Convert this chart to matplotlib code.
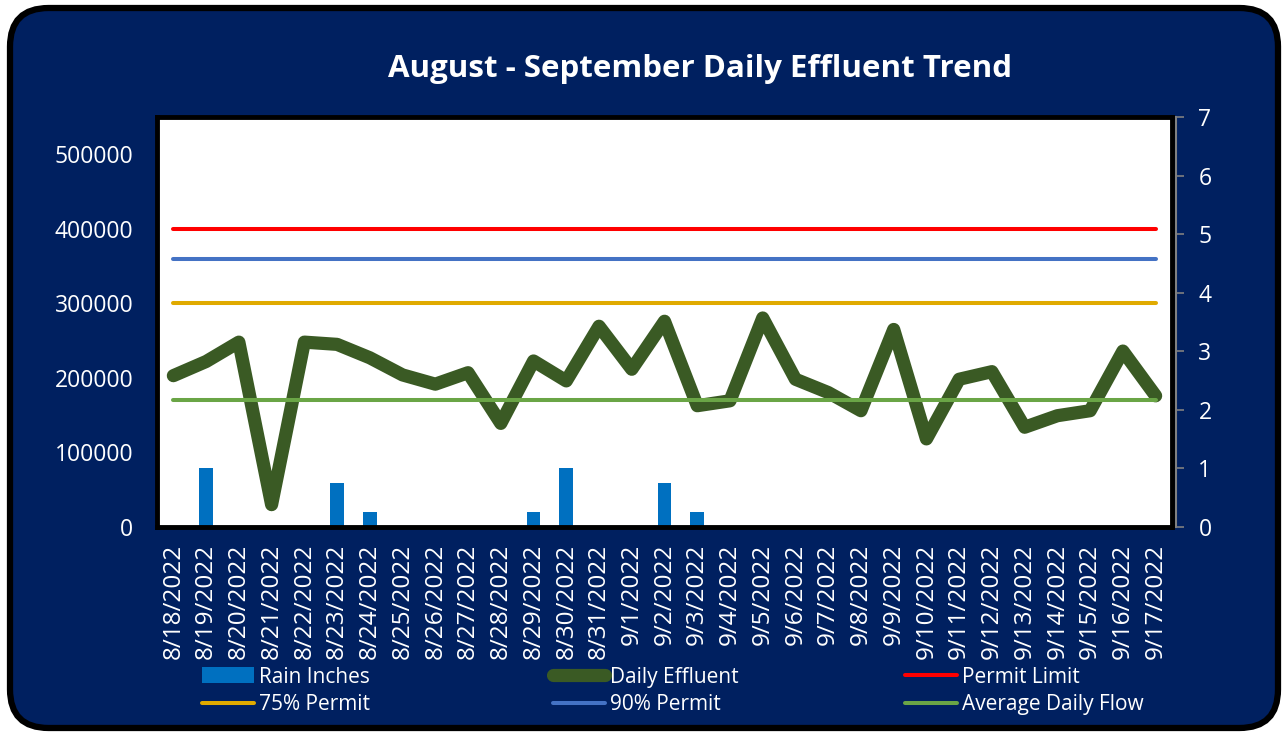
import matplotlib
matplotlib.use("Agg")
import matplotlib.pyplot as plt
import numpy as np
from matplotlib.patches import FancyBboxPatch, Patch
from matplotlib.lines import Line2D

plt.rcParams['font.family'] = ['Open Sans', 'DejaVu Sans']

dates = ["8/18/2022", "8/19/2022", "8/20/2022", "8/21/2022", "8/22/2022", "8/23/2022",
         "8/24/2022", "8/25/2022", "8/26/2022", "8/27/2022", "8/28/2022", "8/29/2022",
         "8/30/2022", "8/31/2022", "9/1/2022", "9/2/2022", "9/3/2022", "9/4/2022",
         "9/5/2022", "9/6/2022", "9/7/2022", "9/8/2022", "9/9/2022", "9/10/2022",
         "9/11/2022", "9/12/2022", "9/13/2022", "9/14/2022", "9/15/2022", "9/16/2022",
         "9/17/2022"]
daily_effluent = [203000, 222000, 248000, 30000, 248000, 245000, 227000, 204000, 191600,
                  207000, 139000, 222700, 196000, 269300, 211600, 276000, 162700, 169300,
                  280400, 198200, 180400, 156000, 265000, 118200, 198200, 208400, 133800,
                  149300, 156000, 236000, 176000]
rain_inches = [0, 1.0, 0, 0, 0, 0.75, 0.25, 0, 0, 0, 0, 0.25, 1.0, 0, 0, 0.75, 0.25, 0,
               0, 0, 0, 0, 0, 0, 0, 0, 0, 0, 0, 0, 0]
permit_limit = 400000
permit_90 = 360000
permit_75 = 300000
average_daily_flow = 171000

NAVY = '#002060'
W, H = 1288, 736
fig = plt.figure(figsize=(W / 100, H / 100), dpi=100, facecolor='white')

# rounded frame
frame = FancyBboxPatch((10 / W, 8 / H), (W - 20) / W, (H - 16) / H,
                       boxstyle="round,pad=0,rounding_size=0.03",
                       transform=fig.transFigure, facecolor=NAVY, edgecolor='black',
                       linewidth=4.5, zorder=-10, mutation_aspect=W / H)
fig.patches.append(frame)

left, right, top, bottom = 157, 1172, 117, 527
rect = [left / W, 1 - bottom / H, (right - left) / W, (bottom - top) / H]
ax = fig.add_axes(rect)
ax2 = ax.twinx()
ax2.set_zorder(1)
ax.set_zorder(2)
ax.patch.set_visible(False)
ax2.patch.set_visible(True)
ax2.patch.set_facecolor('white')

x = np.arange(len(dates))

# rain bars (right axis)
ax2.bar(x, rain_inches, width=0.42, color='#0070c0', zorder=2)
ax2.set_ylim(0, 7)
ax2.set_yticks(range(0, 8))
for s in ['left', 'top', 'bottom']:
    ax2.spines[s].set_visible(False)
ax2.spines['right'].set_color('#808080')
ax2.spines['right'].set_linewidth(1.5)
ax2.spines['right'].set_position(('outward', 3))
ax2.tick_params(axis='y', colors='#808080', length=6, width=1.2, direction='out',
                labelcolor='white', labelsize=16.5, pad=10)

# lines (left axis)
n = len(dates)
ax.plot(x, np.full(n, permit_limit), color='#ff0000', lw=2.9, solid_capstyle='round', zorder=3)
ax.plot(x, np.full(n, permit_90), color='#4472c4', lw=2.9, solid_capstyle='round', zorder=3)
ax.plot(x, np.full(n, permit_75), color='#e0aa00', lw=2.9, solid_capstyle='round', zorder=3)
ax.plot(x, daily_effluent, color='#3a5a24', lw=9.5, solid_joinstyle='round',
        solid_capstyle='round', zorder=4)
ax.plot(x, np.full(n, average_daily_flow), color='#6aa546', lw=2.9, solid_capstyle='round', zorder=5)

ax.set_xlim(-0.5, n - 0.5)
ax.set_ylim(0, 550000)
ax.set_yticks(range(0, 500001, 100000))
ax.set_yticklabels([str(v) for v in range(0, 500001, 100000)])
ax.tick_params(axis='y', length=0, labelcolor='white', labelsize=16.5, pad=17)
ax.set_xticks(x)
ax.set_xticklabels(dates, rotation=90, va='top', ha='center')
ax.tick_params(axis='x', length=0, labelcolor='white', labelsize=17.5, pad=12)
for s in ax.spines.values():
    s.set_color('black')
    s.set_linewidth(3.5)

fig.text(700 / W, 1 - 69 / H, "August - September Daily Effluent Trend", color='white',
         fontsize=22.5, fontweight='bold', ha='center', va='center')

cols = [
    ([Patch(facecolor='#0070c0', edgecolor='none'),
      Line2D([], [], color='#e0aa00', lw=2.9, solid_capstyle='round')],
     ["Rain Inches", "75% Permit"], 202),
    ([Line2D([], [], color='#3a5a24', lw=9.5, solid_capstyle='round'),
      Line2D([], [], color='#4472c4', lw=2.9, solid_capstyle='round')],
     ["Daily Effluent", "90% Permit"], 553),
    ([Line2D([], [], color='#ff0000', lw=2.9, solid_capstyle='round'),
      Line2D([], [], color='#6aa546', lw=2.9, solid_capstyle='round')],
     ["Permit Limit", "Average Daily Flow"], 905),
]
for hs, ls, xp in cols:
    fig.legend(hs, ls, ncol=1, loc='center left',
               bbox_to_anchor=(xp / W, 1 - 691 / H), frameon=False,
               fontsize=15, labelcolor='white', handlelength=2.5, handleheight=0.8,
               handletextpad=0.25, labelspacing=0.32,
               borderaxespad=0, borderpad=0)

fig.savefig('out.png', dpi=100, facecolor='white')
